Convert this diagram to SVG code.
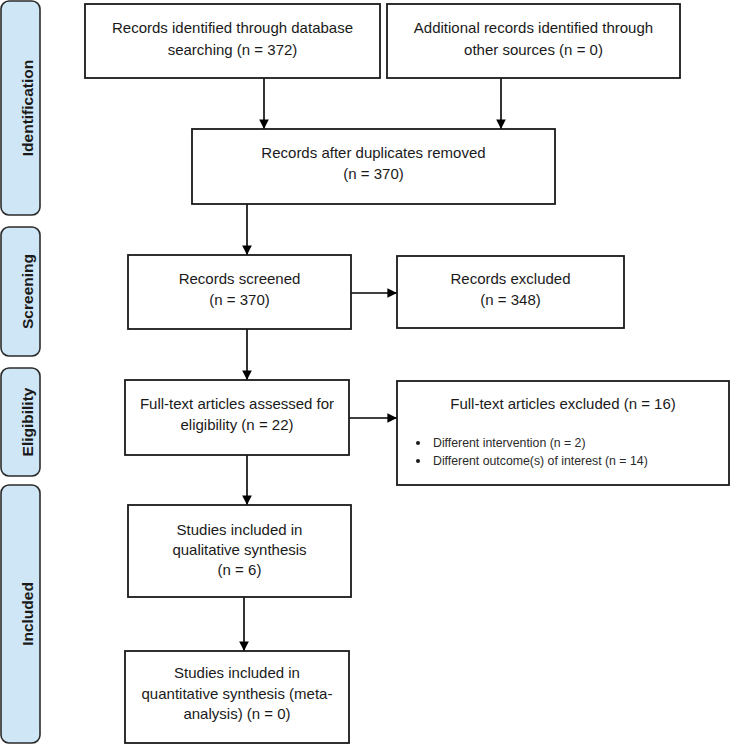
<svg xmlns="http://www.w3.org/2000/svg" width="731" height="745" viewBox="0 0 731 745">
<style>
.bg{fill:#ffffff}
.phase rect{fill:#cfe6f6;stroke:#2b2b2b;stroke-width:1.6}
.phase text{font-family:"Liberation Sans",Arial,sans-serif;font-weight:bold;font-size:15.5px;fill:#1a1a1a;text-anchor:middle}
.node rect{fill:#ffffff;stroke:#1a1a1a;stroke-width:1.8}
.node text{font-family:"Liberation Sans",Arial,sans-serif;font-size:15px;fill:#1a1a1a;text-anchor:middle}
.node text.small{font-size:12.3px;text-anchor:start;fill:#2a2a2a}
#connectors line{stroke:#000;stroke-width:1.6;fill:none}
</style>
<defs>
<marker id="ah" viewBox="0 0 10 10" refX="10" refY="5" markerWidth="6" markerHeight="6" markerUnits="strokeWidth" orient="auto">
<path d="M0,0 L10,5 L0,10 Z" fill="#000"/>
</marker>
</defs>
<rect class="bg" x="0" y="0" width="731" height="745"/>

<g id="phase-identification" class="phase">
<rect x="1" y="1" width="39" height="214" rx="8"/>
<text transform="translate(33,108) rotate(-90)">Identification</text>
</g>
<g id="phase-screening" class="phase">
<rect x="1" y="227" width="39" height="129" rx="8"/>
<text transform="translate(33,291.5) rotate(-90)">Screening</text>
</g>
<g id="phase-eligibility" class="phase">
<rect x="1" y="368" width="39" height="108" rx="8"/>
<text transform="translate(33,422) rotate(-90)">Eligibility</text>
</g>
<g id="phase-included" class="phase">
<rect x="1" y="485" width="39" height="258" rx="8"/>
<text transform="translate(33,614) rotate(-90)">Included</text>
</g>

<g id="connectors">
<line x1="264" y1="78" x2="264" y2="129" marker-end="url(#ah)"/>
<line x1="501" y1="78" x2="501" y2="129" marker-end="url(#ah)"/>
<line x1="247" y1="204" x2="247" y2="255" marker-end="url(#ah)"/>
<line x1="351" y1="293" x2="397" y2="293" marker-end="url(#ah)"/>
<line x1="247" y1="329" x2="247" y2="380" marker-end="url(#ah)"/>
<line x1="349" y1="418" x2="397" y2="418" marker-end="url(#ah)"/>
<line x1="247" y1="455" x2="247" y2="505" marker-end="url(#ah)"/>
<line x1="244" y1="597" x2="244" y2="651" marker-end="url(#ah)"/>
</g>

<g id="n-database" class="node">
<rect x="85" y="4" width="295" height="74"/>
<text x="232.5" y="33">Records identified through database</text>
<text x="232.5" y="55">searching (n = 372)</text>
</g>
<g id="n-other" class="node">
<rect x="387" y="4" width="293" height="74"/>
<text x="533.5" y="33">Additional records identified through</text>
<text x="533.5" y="55">other sources (n = 0)</text>
</g>
<g id="n-dedup" class="node">
<rect x="192" y="129" width="363" height="75"/>
<text x="373.5" y="158">Records after duplicates removed</text>
<text x="373.5" y="179">(n = 370)</text>
</g>
<g id="n-screened" class="node">
<rect x="128" y="255" width="223" height="74"/>
<text x="239.5" y="284">Records screened</text>
<text x="239.5" y="305">(n = 370)</text>
</g>
<g id="n-excluded" class="node">
<rect x="397" y="256" width="227" height="72"/>
<text x="510.5" y="284">Records excluded</text>
<text x="510.5" y="305">(n = 348)</text>
</g>
<g id="n-fulltext" class="node">
<rect x="125" y="380" width="224" height="75"/>
<text x="237" y="409">Full-text articles assessed for</text>
<text x="237" y="430">eligibility (n = 22)</text>
</g>
<g id="n-ft-excluded" class="node">
<rect x="397" y="381" width="332" height="104"/>
<text x="563" y="409">Full-text articles excluded (n = 16)</text>
<circle cx="418" cy="443" r="2" fill="#1a1a1a"/>
<circle cx="418" cy="461" r="2" fill="#1a1a1a"/>
<text class="small" x="433" y="447">Different intervention (n = 2)</text>
<text class="small" x="433" y="465">Different outcome(s) of interest (n = 14)</text>
</g>
<g id="n-qualitative" class="node">
<rect x="128" y="505" width="223" height="92"/>
<text x="239.5" y="535">Studies included in</text>
<text x="239.5" y="555">qualitative synthesis</text>
<text x="239.5" y="575">(n = 6)</text>
</g>
<g id="n-quantitative" class="node">
<rect x="125" y="651" width="224" height="92"/>
<text x="237" y="678">Studies included in</text>
<text x="237" y="699">quantitative synthesis (meta-</text>
<text x="237" y="719">analysis) (n = 0)</text>
</g>
</svg>
